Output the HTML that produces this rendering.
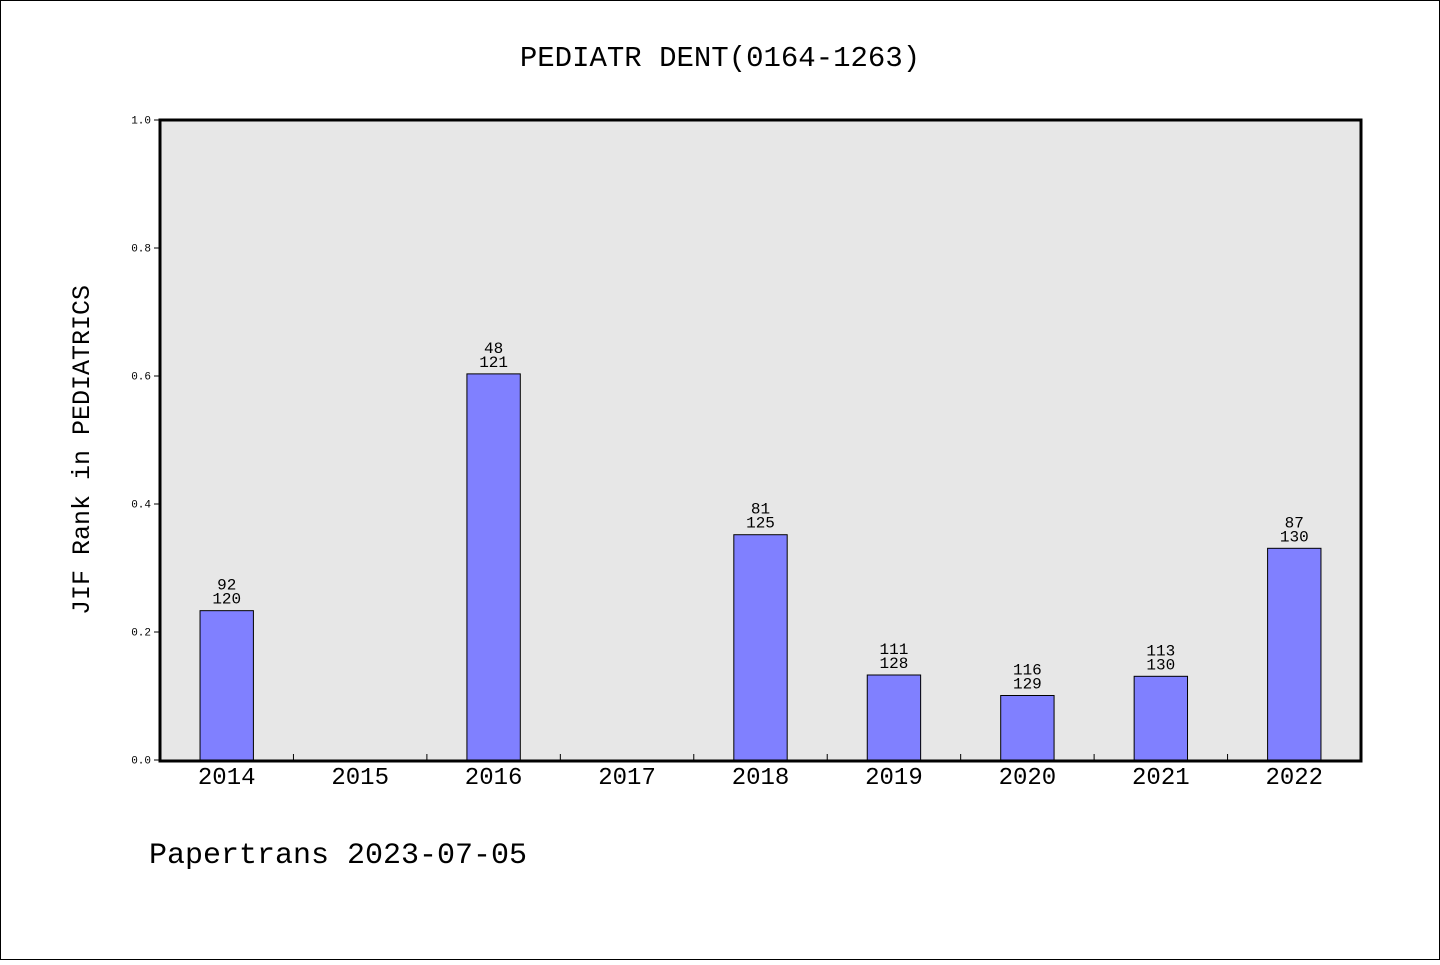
<!DOCTYPE html>
<html><head><meta charset="utf-8"><style>
html,body{margin:0;padding:0;background:#fff}
svg text{font-family:"Liberation Mono","WenQuanYi Zen Hei",monospace;fill:#000}
</style></head><body>
<svg id="c" width="1440" height="960" xmlns="http://www.w3.org/2000/svg">
<rect x="0.5" y="0.5" width="1439" height="959" fill="#fff" stroke="#000"/>
<text x="720" y="66" font-size="29" text-anchor="middle">PEDIATR DENT(0164-1263)</text>
<rect x="160" y="120" width="1201" height="641" fill="#e7e7e7"/>
<g id="marks"></g>
<rect x="160" y="120" width="1201" height="641" fill="none" stroke="#000" stroke-width="3"/>
<text transform="translate(89,450) rotate(-90)" font-size="25" text-anchor="middle">JIF Rank in PEDIATRICS</text>
<text x="149" y="863" font-size="30">Papertrans 2023-07-05</text>
</svg>
<script>
const categories=["2014","2015","2016","2017","2018","2019","2020","2021","2022"];
const ranks=[92,null,48,null,81,111,116,113,87];
const totals=[120,null,121,null,125,128,129,130,130];
const yTicks=["0.0","0.2","0.4","0.6","0.8","1.0"];
const X0=160,X1=1361,Y0=760,Y1=120;
const slot=(X1-X0)/categories.length;
const xC=i=>X0+slot*(i+0.5);
const y=v=>Y0-(Y0-Y1)*v;
const NS="http://www.w3.org/2000/svg";
const g=document.getElementById('marks');
function mk(t,a){const e=document.createElementNS(NS,t);for(const k in a)e.setAttribute(k,a[k]);g.appendChild(e);return e;}
yTicks.forEach(t=>{const v=parseFloat(t);
 const l=mk('line',{x1:X0-6,x2:X0,y1:y(v),y2:y(v),stroke:'#000'});
 
 
 const tx=mk('text',{x:X0-9,y:y(v)+3.5,'font-size':11,'text-anchor':'end'});tx.textContent=t;
 
 
});
categories.forEach((c,i)=>{
 if(i>0){const l=mk('line',{x1:X0+slot*i,x2:X0+slot*i,y1:Y0,y2:Y0-6,stroke:'#000'});
  
  }
 const tx=mk('text',{x:xC(i),y:784,'font-size':24,'text-anchor':'middle'});tx.textContent=c;
 
 
 if(ranks[i]==null)return;
 const v=(totals[i]-ranks[i])/totals[i];
 const w=slot*0.4;
 const b=mk('rect',{x:xC(i)-w/2,y:y(v),width:w,height:Y0-y(v),fill:'#8080ff',stroke:'#000','stroke-width':1});
 
 
 const t1=mk('text',{x:xC(i),y:y(v)-21,'font-size':16,'text-anchor':'middle'});t1.textContent=ranks[i];
 
 
 const t2=mk('text',{x:xC(i),y:y(v)-7,'font-size':16,'text-anchor':'middle'});t2.textContent=totals[i];
 
 
});
</script>
</body></html>
